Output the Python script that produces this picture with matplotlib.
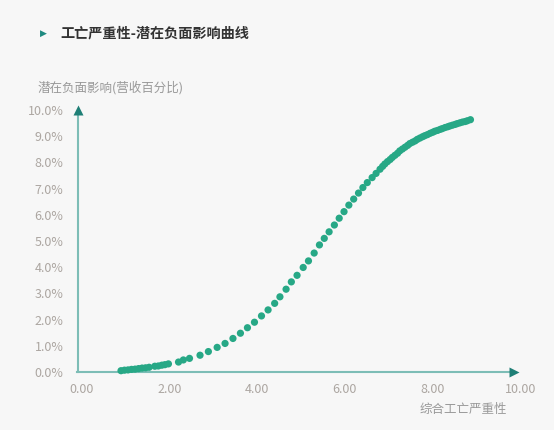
import matplotlib
matplotlib.use("Agg")
import matplotlib.pyplot as plt

plt.rcParams['font.family'] = ['Noto Sans CJK SC', 'DejaVu Sans']

# 综合工亡严重性 (x) 与 潜在负面影响 % (y)
severity = [0.90, 0.98, 1.06, 1.14, 1.22, 1.30, 1.38, 1.46, 1.54, 1.67,
            1.75, 1.83, 1.90, 1.98, 2.21, 2.32, 2.46, 2.70, 2.89, 3.09,
            3.27, 3.45, 3.62, 3.78, 3.94, 4.10, 4.25, 4.40, 4.52, 4.66,
            4.78, 4.91, 5.05, 5.17, 5.30, 5.42, 5.53, 5.64, 5.76, 5.87,
            5.98, 6.09, 6.20, 6.31, 6.41, 6.51, 6.62, 6.71, 6.80,
            6.86, 6.91, 6.97, 7.03, 7.08, 7.14, 7.20, 7.25, 7.31, 7.37,
            7.43, 7.48, 7.54, 7.60, 7.65, 7.71, 7.77, 7.82, 7.88, 7.94,
            8.00, 8.05, 8.11, 8.17, 8.22, 8.28, 8.34, 8.39, 8.45, 8.51,
            8.56, 8.62, 8.68, 8.74, 8.79, 8.86]
impact = [0.05, 0.07, 0.08, 0.10, 0.11, 0.13, 0.15, 0.16, 0.18, 0.22,
          0.23, 0.26, 0.28, 0.31, 0.38, 0.46, 0.52, 0.64, 0.78, 0.94,
          1.09, 1.28, 1.48, 1.69, 1.90, 2.14, 2.37, 2.62, 2.87, 3.16,
          3.44, 3.69, 3.99, 4.24, 4.54, 4.85, 5.10, 5.35, 5.61, 5.87,
          6.12, 6.37, 6.60, 6.83, 7.04, 7.23, 7.42, 7.58, 7.74,
          7.85, 7.94, 8.03, 8.11, 8.19, 8.27, 8.35, 8.44, 8.51, 8.58,
          8.65, 8.72, 8.77, 8.82, 8.88, 8.93, 8.98, 9.02, 9.06, 9.11,
          9.15, 9.19, 9.22, 9.26, 9.29, 9.33, 9.36, 9.39, 9.42, 9.45,
          9.48, 9.51, 9.54, 9.56, 9.59, 9.63]

xticks = [0, 2, 4, 6, 8, 10]
yticks = list(range(0, 11))

bg = '#f7f7f7'
fig = plt.figure(figsize=(5.54, 4.30), dpi=100, facecolor=bg)
ax = fig.add_axes([81.5 / 554, 58 / 430, 439 / 554, 262 / 430], facecolor=bg)

ax.scatter(severity, impact, s=27, color='#27a886', edgecolors='none', zorder=3, clip_on=False)

ax.set_xlim(0, 10)
ax.set_ylim(0, 10)
for s in ax.spines.values():
    s.set_visible(False)

ax.set_xticks(xticks)
ax.set_xticklabels([f'{v:.2f}' for v in xticks])
ax.set_yticks(yticks)
ax.set_yticklabels([f'{v:.1f}%' for v in yticks])
ax.tick_params(length=0, labelsize=9, colors='#aca6a1')
ax.tick_params(axis='x', pad=8)
ax.tick_params(axis='y', pad=13)

# 坐标轴线 + 箭头
line_c = '#7dbdb6'
head_c = '#1f7f76'
ax.plot([-0.01, 0.985], [0, 0], transform=ax.transAxes, color=line_c, lw=1.5, clip_on=False)
ax.plot([0.985], [0], transform=ax.transAxes, marker='>', ms=7, color=head_c,
        mec='none', clip_on=False)
ax.plot([-0.007, -0.007], [0, 1.0], transform=ax.transAxes, color=line_c, lw=1.5, clip_on=False)
ax.plot([-0.007], [1.0], transform=ax.transAxes, marker='^', ms=7, color=head_c,
        mec='none', clip_on=False)

# 标题
fig.text(43 / 554, 1 - 33 / 430, '\u25B6', color='#1f8a80', fontsize=6.5,
         ha='center', va='center', family=['DejaVu Sans'])
fig.text(60 / 554, 1 - 33 / 430, '工亡严重性-潜在负面影响曲线', fontsize=10.2,
         fontweight='bold', color='#333333', ha='left', va='center')

fig.text(38 / 554, 1 - 88 / 430, '潜在负面影响(营收百分比)', fontsize=9,
         color='#999999', ha='left', va='center')
fig.text(507 / 554, 1 - 409 / 430, '综合工亡严重性', fontsize=9,
         color='#999999', ha='right', va='center')

fig.savefig('out.png', dpi=100, facecolor=bg)
